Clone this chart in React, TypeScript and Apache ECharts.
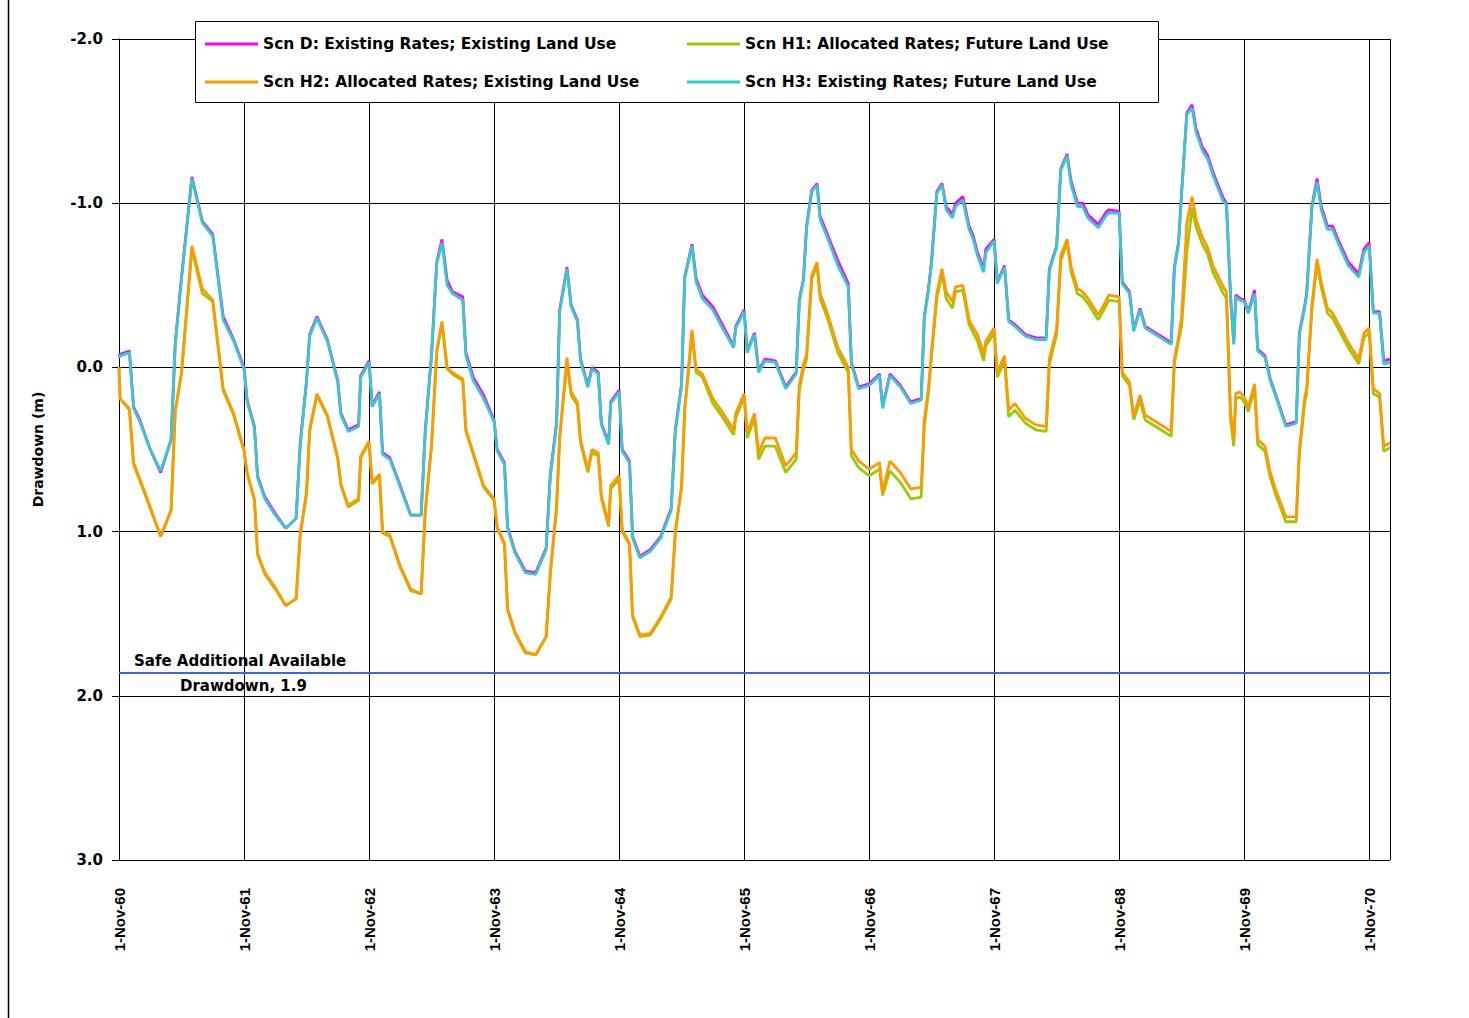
import React, { useEffect, useRef } from "react";
import * as echarts from "echarts";

// x = months after 1-Nov-1960
const monthOffsets = [
  0, 0.1, 1, 1.4, 2, 3, 4, 5, 5.4, 6, 7, 8, 9, 10, 11, 12,
  12.3, 13, 13.3, 14, 15, 16, 17, 17.4, 18, 18.3, 19, 20, 21, 21.3, 22, 23, 23.2, 24,
  24.3, 25, 25.3, 26, 27, 28, 29, 29.4, 30, 30.5, 31, 31.5, 32, 33, 33.3, 34, 35, 36,
  36.3, 37, 37.3, 38, 39, 40, 41, 41.4, 42, 42.3, 43, 43.4, 44, 44.3, 45, 45.4, 46, 46.3, 47, 47.2, 48,
  48.3, 49, 49.3, 50, 51, 52, 53, 53.4, 54, 54.3, 55, 55.4, 56, 57, 58, 59, 59.2, 60,
  60.3, 61, 61.4, 62, 63, 64, 65, 65.3, 65.7, 66, 66.5, 67, 67.3, 68, 69, 70, 70.3, 71, 72,
  73, 73.3, 74, 75, 76, 77, 77.3, 77.7, 78, 78.5, 79, 79.4, 80, 80.3, 81, 81.6, 82, 82.4, 83, 83.2, 84,
  84.3, 85, 85.4, 86, 87, 88, 89, 89.3, 90, 90.4, 91, 91.4, 92, 92.5, 93, 94, 94.7, 95, 96,
  96.3, 97, 97.4, 98, 98.5, 99, 100, 101, 101.3, 101.7, 102, 102.5, 103, 103.4, 104, 104.5, 105, 106, 106.3, 106.7, 107, 107.2, 107.6, 108,
  108.4, 109, 109.3, 110, 110.5, 111, 112, 113, 113.3, 113.8, 114, 114.5, 115, 115.4, 116, 116.5, 117, 118, 119, 119.5, 120, 120.4, 121, 121.4, 122,
];

const scnD = [
  -0.07, -0.08, -0.10, 0.24, 0.32, 0.50, 0.64, 0.44, -0.15, -0.55, -1.16, -0.89, -0.81, -0.31, -0.17, 0.0,
  0.20, 0.36, 0.66, 0.79, 0.89, 0.98, 0.92, 0.46, 0.08, -0.20, -0.31, -0.17, 0.08, 0.28, 0.38, 0.35, 0.05, -0.04,
  0.23, 0.15, 0.52, 0.55, 0.72, 0.90, 0.90, 0.38, -0.08, -0.64, -0.78, -0.53, -0.46, -0.43, -0.09, 0.06, 0.17, 0.32,
  0.50, 0.58, 0.97, 1.12, 1.24, 1.25, 1.10, 0.65, 0.34, -0.35, -0.61, -0.38, -0.29, -0.05, 0.11, 0.0, 0.03, 0.34, 0.46, 0.21, 0.14,
  0.50, 0.57, 1.03, 1.15, 1.11, 1.03, 0.86, 0.38, 0.10, -0.55, -0.75, -0.54, -0.44, -0.37, -0.25, -0.13, -0.25, -0.35,
  -0.10, -0.21, 0.02, -0.05, -0.04, 0.12, 0.03, -0.41, -0.54, -0.86, -1.08, -1.12, -0.92, -0.81, -0.65, -0.51, -0.03, 0.12, 0.10,
  0.04, 0.24, 0.04, 0.11, 0.21, 0.19, -0.31, -0.48, -0.65, -1.07, -1.12, -0.98, -0.93, -1.0, -1.04, -0.86, -0.80, -0.70, -0.60, -0.72, -0.78,
  -0.52, -0.62, -0.29, -0.26, -0.20, -0.18, -0.18, -0.60, -0.74, -1.21, -1.30, -1.13, -1.0, -1.0, -0.93, -0.87, -0.94, -0.96, -0.95,
  -0.52, -0.46, -0.23, -0.36, -0.25, -0.23, -0.19, -0.15, -0.61, -0.76, -1.07, -1.55, -1.60, -1.45, -1.34, -1.29, -1.19, -1.03, -1.0, -0.43, -0.15, -0.44, -0.42, -0.41,
  -0.34, -0.47, -0.11, -0.07, 0.07, 0.16, 0.35, 0.33, -0.21, -0.37, -0.45, -0.98, -1.15, -0.98, -0.86, -0.86, -0.78, -0.64, -0.57, -0.72, -0.76, -0.34, -0.34, -0.04, -0.05,
];

const scnH1 = [
  0.0, 0.19, 0.26, 0.59, 0.69, 0.86, 1.03, 0.87, 0.27, 0.04, -0.72, -0.45, -0.40, 0.14, 0.29, 0.51,
  0.65, 0.81, 1.14, 1.26, 1.35, 1.45, 1.41, 1.02, 0.77, 0.39, 0.17, 0.30, 0.56, 0.72, 0.85, 0.81, 0.55, 0.46,
  0.71, 0.66, 1.01, 1.03, 1.22, 1.36, 1.38, 0.88, 0.48, -0.09, -0.27, 0.01, 0.04, 0.08, 0.39, 0.53, 0.73, 0.81,
  0.98, 1.08, 1.48, 1.62, 1.74, 1.75, 1.64, 1.26, 0.86, 0.43, -0.03, 0.17, 0.23, 0.46, 0.64, 0.52, 0.54, 0.80, 0.97, 0.74, 0.68,
  1.00, 1.08, 1.52, 1.64, 1.63, 1.53, 1.41, 1.01, 0.73, 0.27, -0.20, 0.03, 0.06, 0.22, 0.31, 0.41, 0.31, 0.18,
  0.43, 0.31, 0.56, 0.48, 0.48, 0.64, 0.56, 0.14, 0.01, -0.05, -0.54, -0.62, -0.42, -0.30, -0.09, 0.03, 0.54, 0.61, 0.66,
  0.62, 0.78, 0.63, 0.70, 0.80, 0.79, 0.36, 0.15, -0.07, -0.42, -0.57, -0.42, -0.36, -0.46, -0.47, -0.26, -0.21, -0.16, -0.04, -0.13, -0.21,
  0.06, -0.04, 0.30, 0.26, 0.34, 0.38, 0.39, -0.02, -0.20, -0.65, -0.76, -0.58, -0.45, -0.43, -0.39, -0.29, -0.37, -0.41, -0.40,
  0.05, 0.11, 0.32, 0.20, 0.32, 0.34, 0.38, 0.42, -0.02, -0.16, -0.25, -0.70, -0.97, -0.85, -0.75, -0.69, -0.58, -0.45, -0.42, 0.32, 0.48, 0.19, 0.18, 0.21,
  0.27, 0.13, 0.47, 0.51, 0.67, 0.77, 0.94, 0.94, 0.53, 0.22, 0.16, -0.35, -0.63, -0.49, -0.33, -0.30, -0.24, -0.12, -0.02, -0.18, -0.21, 0.16, 0.18, 0.51, 0.49,
];

const scnH2 = [
  0.0, 0.19, 0.25, 0.58, 0.68, 0.85, 1.03, 0.87, 0.26, 0.03, -0.74, -0.48, -0.41, 0.13, 0.28, 0.50,
  0.64, 0.80, 1.13, 1.25, 1.34, 1.45, 1.41, 1.01, 0.76, 0.38, 0.16, 0.29, 0.55, 0.71, 0.84, 0.80, 0.54, 0.45,
  0.70, 0.65, 1.0, 1.02, 1.21, 1.35, 1.38, 0.87, 0.47, -0.10, -0.28, 0.0, 0.03, 0.07, 0.38, 0.52, 0.72, 0.80,
  0.97, 1.07, 1.47, 1.61, 1.73, 1.75, 1.64, 1.25, 0.85, 0.42, -0.06, 0.15, 0.21, 0.44, 0.62, 0.50, 0.52, 0.78, 0.95, 0.72, 0.66,
  0.99, 1.07, 1.51, 1.63, 1.62, 1.52, 1.40, 1.0, 0.72, 0.25, -0.23, 0.01, 0.04, 0.19, 0.28, 0.38, 0.28, 0.16,
  0.40, 0.28, 0.52, 0.43, 0.43, 0.60, 0.52, 0.11, -0.02, -0.08, -0.56, -0.64, -0.45, -0.33, -0.12, 0.0, 0.50, 0.57, 0.62,
  0.58, 0.76, 0.57, 0.64, 0.74, 0.73, 0.32, 0.12, -0.10, -0.45, -0.60, -0.46, -0.40, -0.49, -0.50, -0.29, -0.24, -0.20, -0.08, -0.16, -0.24,
  0.03, -0.07, 0.26, 0.22, 0.31, 0.35, 0.36, -0.05, -0.23, -0.68, -0.78, -0.61, -0.48, -0.46, -0.42, -0.32, -0.40, -0.44, -0.43,
  0.03, 0.09, 0.30, 0.17, 0.29, 0.31, 0.35, 0.39, -0.05, -0.18, -0.31, -0.88, -1.04, -0.90, -0.79, -0.73, -0.62, -0.49, -0.46, 0.28, 0.44, 0.16, 0.15, 0.18,
  0.24, 0.10, 0.44, 0.48, 0.64, 0.74, 0.91, 0.91, 0.50, 0.19, 0.13, -0.38, -0.66, -0.52, -0.36, -0.33, -0.27, -0.15, -0.05, -0.21, -0.24, 0.13, 0.16, 0.48, 0.46,
];

const scnH3 = [
  -0.06, -0.07, -0.09, 0.25, 0.33, 0.50, 0.63, 0.44, -0.14, -0.54, -1.15, -0.88, -0.80, -0.29, -0.16, 0.01,
  0.21, 0.37, 0.67, 0.80, 0.90, 0.98, 0.92, 0.47, 0.09, -0.19, -0.30, -0.16, 0.09, 0.29, 0.39, 0.36, 0.06, -0.03,
  0.24, 0.16, 0.53, 0.56, 0.73, 0.90, 0.90, 0.39, -0.07, -0.63, -0.76, -0.50, -0.45, -0.41, -0.07, 0.08, 0.19, 0.33,
  0.51, 0.59, 0.98, 1.13, 1.25, 1.26, 1.11, 0.66, 0.35, -0.34, -0.60, -0.37, -0.28, -0.04, 0.12, 0.01, 0.04, 0.35, 0.47, 0.22, 0.15,
  0.51, 0.58, 1.04, 1.16, 1.12, 1.04, 0.87, 0.39, 0.11, -0.54, -0.74, -0.52, -0.42, -0.35, -0.23, -0.12, -0.24, -0.34,
  -0.09, -0.20, 0.03, -0.04, -0.03, 0.13, 0.04, -0.40, -0.53, -0.85, -1.07, -1.11, -0.90, -0.79, -0.62, -0.49, -0.02, 0.13, 0.11,
  0.05, 0.25, 0.05, 0.12, 0.22, 0.20, -0.30, -0.47, -0.64, -1.06, -1.11, -0.96, -0.91, -0.98, -1.02, -0.84, -0.78, -0.68, -0.58, -0.70, -0.77,
  -0.51, -0.61, -0.28, -0.25, -0.19, -0.17, -0.17, -0.59, -0.73, -1.20, -1.29, -1.11, -0.98, -0.98, -0.91, -0.85, -0.92, -0.94, -0.94,
  -0.51, -0.45, -0.22, -0.35, -0.24, -0.22, -0.18, -0.14, -0.60, -0.75, -1.06, -1.54, -1.58, -1.43, -1.32, -1.27, -1.17, -1.01, -0.99, -0.42, -0.14, -0.43, -0.41, -0.40,
  -0.33, -0.45, -0.10, -0.06, 0.08, 0.17, 0.36, 0.34, -0.20, -0.36, -0.44, -0.97, -1.13, -0.96, -0.84, -0.84, -0.76, -0.62, -0.55, -0.70, -0.74, -0.33, -0.33, -0.02, -0.03,
];

const seriesNames = [
  "Scn D: Existing Rates; Existing Land Use",
  "Scn H1: Allocated Rates; Future Land Use",
  "Scn H2: Allocated Rates; Existing Land Use",
  "Scn H3: Existing Rates; Future Land Use",
];
const seriesValues = [scnD, scnH1, scnH2, scnH3];
const seriesColors = ["#FF00FF", "#99CC00", "#FF9900", "#33CCCC"];

const xTickLabels = [
  "1-Nov-60", "1-Nov-61", "1-Nov-62", "1-Nov-63", "1-Nov-64", "1-Nov-65",
  "1-Nov-66", "1-Nov-67", "1-Nov-68", "1-Nov-69", "1-Nov-70",
];
const xMaxMonths = 122;
const yMin = -2;
const yMax = 3;
const safeDrawdown = 1.86;
const safeLabelLines = ["Safe Additional Available", "Drawdown, 1.9"];
const yAxisTitle = "Drawdown (m)";

const FONT = "DejaVu Sans";

export default function App() {
  const ref = useRef<HTMLDivElement>(null);

  useEffect(() => {
    document.body.style.margin = "0";
    const chart = echarts.init(ref.current as HTMLDivElement, null, { renderer: "svg" });

    const legendPos = [
      { left: 205, top: 36 },
      { left: 687, top: 36 },
      { left: 205, top: 74 },
      { left: 687, top: 74 },
    ];

    const option: any = {
      animation: false,
      backgroundColor: "#ffffff",
      grid: { left: 119, top: 39, right: 79, bottom: 158 },
      legend: seriesNames.map((name, i) => ({
        data: [name],
        left: legendPos[i].left,
        top: legendPos[i].top,
        icon: "rect",
        itemWidth: 53,
        itemHeight: 3,
        padding: 0,
        selectedMode: false,
        z: 20,
        textStyle: { fontFamily: FONT, fontWeight: "bold", fontSize: 15.5, color: "#000" },
      })),
      xAxis: {
        type: "value",
        min: 0,
        max: xMaxMonths,
        interval: 12,
        axisLine: { show: true, lineStyle: { color: "#000", width: 1 } },
        axisTick: { show: true, length: 7, lineStyle: { color: "#000", width: 1 } },
        splitLine: { show: true, lineStyle: { color: "#000", width: 1 } },
        axisLabel: {
          rotate: 90,
          margin: 28,
          color: "#000",
          fontFamily: "Liberation Sans",
          fontWeight: "bold",
          fontSize: 15,
          formatter: (v: number) => {
            const k = v / 12;
            return Math.abs(k - Math.round(k)) < 1e-6 && xTickLabels[Math.round(k)] ? xTickLabels[Math.round(k)] : "";
          },
        },
      },
      yAxis: {
        type: "value",
        inverse: true,
        min: yMin,
        max: yMax,
        interval: 1,
        name: yAxisTitle,
        nameLocation: "middle",
        nameGap: 74,
        nameTextStyle: { fontFamily: FONT, fontWeight: "bold", fontSize: 14, color: "#000" },
        axisLine: { show: true, lineStyle: { color: "#000", width: 1 } },
        axisTick: { show: true, length: 7, lineStyle: { color: "#000", width: 1 } },
        splitLine: { show: true, lineStyle: { color: "#000", width: 1 } },
        axisLabel: {
          margin: 16,
          color: "#000",
          fontFamily: FONT,
          fontWeight: "bold",
          fontSize: 15,
          formatter: (v: number) => v.toFixed(1),
        },
      },
      series: seriesNames.map((name, i) => ({
        name,
        type: "line",
        color: seriesColors[i],
        showSymbol: false,
        symbol: "none",
        lineStyle: { color: seriesColors[i], width: 2.8 },
        itemStyle: { color: seriesColors[i] },
        z: 3 + i,
        data: monthOffsets.map((m, j) => [m, seriesValues[i][j]]),
        markLine:
          i === 0
            ? {
                silent: true,
                symbol: ["none", "none"],
                label: { show: false },
                lineStyle: { color: "#3366FF", width: 2, type: "solid" },
                data: [{ yAxis: safeDrawdown }],
              }
            : undefined,
      })),
      graphic: [
        {
          type: "line",
          shape: { x1: 8.5, y1: 0, x2: 8.5, y2: 1018 },
          style: { stroke: "#000", lineWidth: 1.5 },
          z: 10,
        },
        {
          type: "rect",
          shape: { x: 195.5, y: 21.5, width: 963, height: 81 },
          style: { fill: "#fff", stroke: "#000", lineWidth: 1 },
          z: 10,
        },
        {
          type: "text",
          x: 134,
          y: 661,
          z: 10,
          style: {
            text: safeLabelLines[0],
            fill: "#000",
            fontFamily: FONT,
            fontWeight: "bold",
            fontSize: 15,
            align: "left",
            verticalAlign: "middle",
          },
        },
        {
          type: "text",
          x: 180,
          y: 686,
          z: 10,
          style: {
            text: safeLabelLines[1],
            fill: "#000",
            fontFamily: FONT,
            fontWeight: "bold",
            fontSize: 15,
            align: "left",
            verticalAlign: "middle",
          },
        },
      ],
    };

    chart.setOption(option);
    return () => chart.dispose();
  }, []);

  return <div ref={ref} style={{ width: 1469, height: 1018, background: "#fff" }} />;
}
